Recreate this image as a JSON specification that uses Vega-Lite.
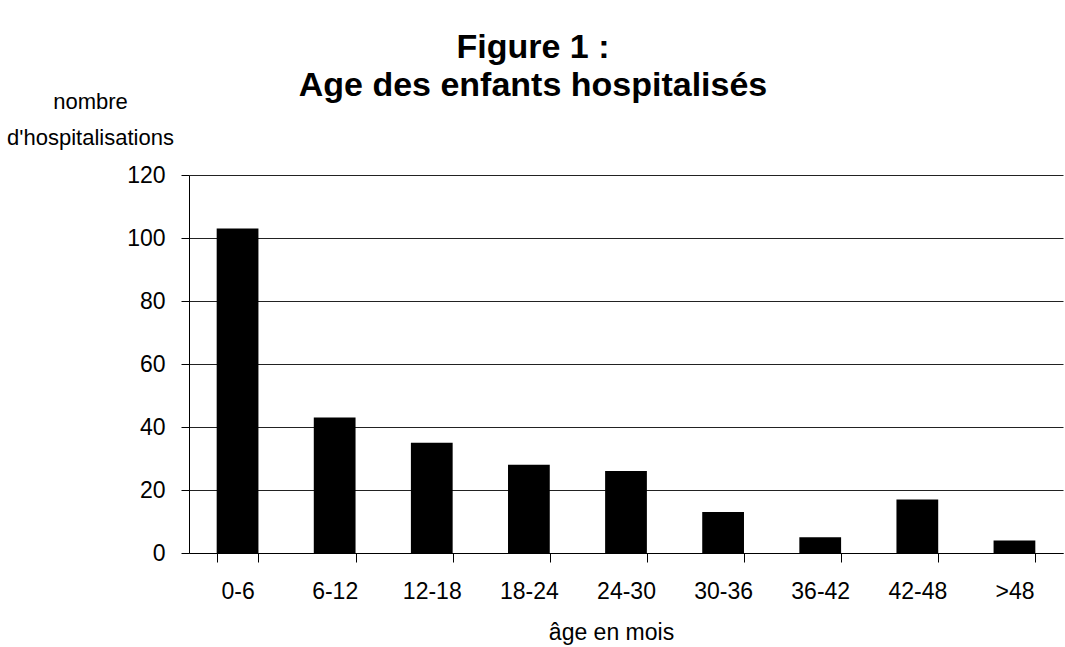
{
  "$schema": "https://vega.github.io/schema/vega-lite/v6.json",
  "autosize": "none",
  "width": 874,
  "height": 378,
  "padding": {"left": 189, "top": 175, "right": 2, "bottom": 94},
  "background": "white",
  "title": {
    "text": ["Figure 1 :", "Age des enfants hospitalisés"],
    "font": "Liberation Sans",
    "fontSize": 34,
    "fontWeight": "bold",
    "color": "black",
    "anchor": "middle",
    "dx": -93,
    "lineHeight": 38,
    "offset": -13
  },
  "data": {
    "values": [
      {"age": "0-6", "n": 103},
      {"age": "6-12", "n": 43},
      {"age": "12-18", "n": 35},
      {"age": "18-24", "n": 28},
      {"age": "24-30", "n": 26},
      {"age": "30-36", "n": 13},
      {"age": "36-42", "n": 5},
      {"age": "42-48", "n": 17},
      {"age": ">48", "n": 4}
    ]
  },
  "mark": {"type": "bar", "color": "black"},
  "encoding": {
    "x": {
      "field": "age",
      "type": "nominal",
      "sort": null,
      "scale": {"paddingInner": 0.57, "paddingOuter": 0.285},
      "axis": {
        "title": "âge en mois",
        "titleFont": "Liberation Sans",
        "titleFontSize": 23,
        "titleFontWeight": "normal",
        "titleColor": "black",
        "titleX": 422,
        "titleY": 86,
        "titleAlign": "center",
        "titleBaseline": "alphabetic",
        "labelAngle": 0,
        "labelFont": "Liberation Sans",
        "labelFontSize": 23,
        "labelColor": "black",
        "labelPadding": 18,
        "domainColor": "black",
        "tickColor": "black",
        "tickSize": 9,
        "tickBand": "extent",
        "grid": false
      }
    },
    "y": {
      "field": "n",
      "type": "quantitative",
      "scale": {"domain": [0, 120]},
      "axis": {
        "values": [0, 20, 40, 60, 80, 100, 120],
        "title": ["nombre", "d'hospitalisations"],
        "titleFont": "Liberation Sans",
        "titleFontSize": 22,
        "titleFontWeight": "normal",
        "titleColor": "black",
        "titleAngle": 0,
        "titleAlign": "center",
        "titleBaseline": "top",
        "titleLineHeight": 36,
        "titleX": -99,
        "titleY": -84,
        "labelFont": "Liberation Sans",
        "labelFontSize": 23,
        "labelColor": "black",
        "labelPadding": 16,
        "domainColor": "black",
        "tickColor": "black",
        "tickSize": 8,
        "grid": true,
        "gridColor": "#222",
        "gridWidth": 1
      }
    }
  },
  "config": {"view": {"stroke": null}}
}
